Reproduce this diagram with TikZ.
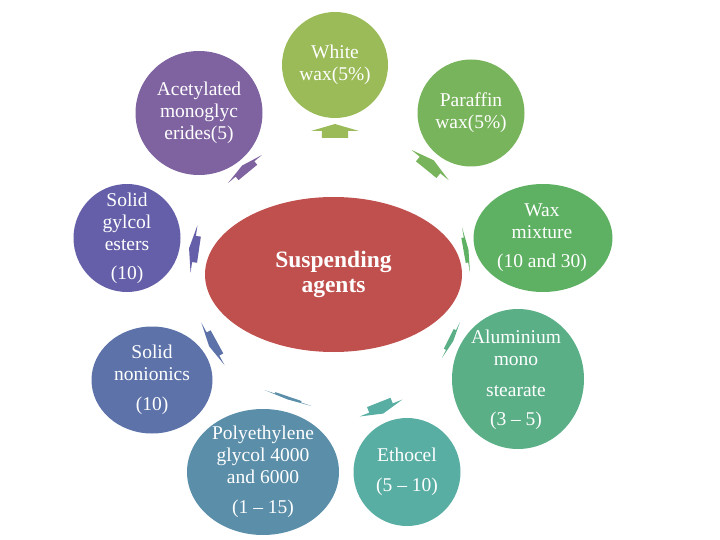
\documentclass[tikz,border=0pt]{standalone}
\usepackage{fontspec}
\setmainfont{Liberation Serif}
\usepackage{tikz}
\usetikzlibrary{shapes.geometric}

\definecolor{cwhite}{HTML}{9BBB59}
\definecolor{cpara}{HTML}{78B45B}
\definecolor{cwaxm}{HTML}{5EB163}
\definecolor{calu}{HTML}{5AAF87}
\definecolor{ceth}{HTML}{59AEA4}
\definecolor{cpeg}{HTML}{5A8EA9}
\definecolor{cnon}{HTML}{5C72A9}
\definecolor{cgly}{HTML}{645FA8}
\definecolor{cacet}{HTML}{7F63A1}
\definecolor{ccentre}{HTML}{C0504D}

\tikzset{
  bub/.style={ellipse, inner sep=0pt},
  lbl/.style={text=white, align=center, font=\fontsize{19.5}{22}\selectfont},
  radarrow/.pic={
    \fill[pic actions] (-0.55,0.5) -- (0.55,0.5) -- (0.55,0) -- (1,0) -- (0,-0.5) -- (-1,0) -- (-0.55,0) -- cycle;
  }
}

\begin{document}
\begin{tikzpicture}[x=1pt, y=-1pt]
\useasboundingbox (0,0) rectangle (720,540);
\node[bub, fill=ccentre, minimum width=257pt, minimum height=155pt] (centre) at (333.5,274.5) {}; % Suspending agents
\node[text=white, align=center, font=\fontsize{23.5}{25}\selectfont\bfseries] (centre-t) at (centre) {Suspending\\agents};
\node[bub, fill=cwhite, minimum width=106pt, minimum height=106pt] (white) at (335,65) {}; % White wax
\node[lbl] (white-t) at (white) {White\\wax(5\%)};
\node[bub, fill=cpara, minimum width=107pt, minimum height=107pt] (para) at (471,113) {}; % Paraffin wax
\node[lbl] (para-t) at (para) {Paraffin\\wax(5\%)};
\node[bub, fill=cwaxm, minimum width=139pt, minimum height=108pt] (waxm) at (543,238) {}; % Wax mixture
\node[lbl] (waxm-t) at (542,238) {Wax\\mixture\\[7pt](10 and 30)};
\node[bub, fill=calu, minimum width=132pt, minimum height=140pt] (alu) at (518,379) {}; % Aluminium mono stearate
\node[lbl] (alu-t) at (516,380) {Aluminium\\mono\\[9pt]stearate\\[7pt](3 -- 5)};
\node[bub, fill=ceth, minimum width=107pt, minimum height=108pt] (eth) at (407,472) {}; % Ethocel
\node[lbl] (eth-t) at (eth) {Ethocel\\[8pt](5 -- 10)};
\node[bub, fill=cpeg, minimum width=152pt, minimum height=126pt] (peg) at (263,472) {}; % Polyethylene glycol
\node[lbl] (peg-t) at (peg) {Polyethylene\\glycol 4000\\and 6000\\[8pt](1 -- 15)};
\node[bub, fill=cnon, minimum width=121pt, minimum height=107pt] (non) at (152,380) {}; % Solid nonionics
\node[lbl] (non-t) at (non) {Solid\\nonionics\\[8pt](10)};
\node[bub, fill=cgly, minimum width=107pt, minimum height=108pt] (gly) at (127,238) {}; % Solid gylcol esters
\node[lbl] (gly-t) at (gly) {Solid\\gylcol\\esters\\[7pt](10)};
\node[bub, fill=cacet, minimum width=127pt, minimum height=124pt] (acet) at (199,113) {}; % Acetylated monoglycerides
\node[lbl] (acet-t) at (acet) {Acetylated\\monoglyc\\erides(5)};
% arrows out of the centre
\pic[fill=cwhite, xscale=24, yscale=14] at (335,131) {radarrow};
\pic[fill=cpara, rotate=-39, xscale=24, yscale=12] at (430,165) {radarrow};
\pic[fill=cwaxm, rotate=-80, xscale=23, yscale=5] at (466,250) {radarrow};
\pic[fill=calu, rotate=-116.6, xscale=20, yscale=5] at (451,340) {radarrow};
\pic[fill=ceth, rotate=-158.4, xscale=23, yscale=12] at (381,408) {radarrow};
\pic[fill=cpeg, rotate=161.2, xscale=25, yscale=3] at (288,398) {radarrow};
\pic[fill=cnon, rotate=118.7, xscale=24, yscale=9] at (213,344) {radarrow};
\pic[fill=cgly, rotate=81.7, xscale=24, yscale=10] at (194,249) {radarrow};
\pic[fill=cacet, rotate=39.5, xscale=22, yscale=9] at (245,169) {radarrow};
\end{tikzpicture}
\end{document}
